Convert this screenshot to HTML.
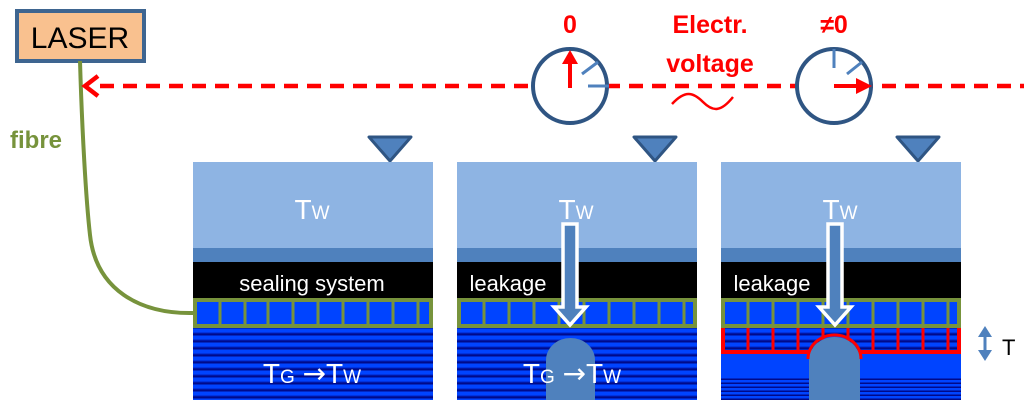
<!DOCTYPE html>
<html><head><style>body{margin:0;background:#fff}svg{display:block}</style></head><body>
<svg width="1024" height="409" viewBox="0 0 1024 409" xmlns="http://www.w3.org/2000/svg" font-family="Liberation Sans, sans-serif">
<defs>
<pattern id="st" width="10" height="7" patternUnits="userSpaceOnUse">
<rect width="10" height="7" fill="#0044ff"/><rect y="3.5" width="10" height="1" fill="#0022c0"/><rect y="4.5" width="10" height="2" fill="#000a8a"/></pattern>
<pattern id="st2" width="10" height="4" patternUnits="userSpaceOnUse">
<rect width="10" height="4" fill="#0044ff"/><rect y="2.5" width="10" height="1.5" fill="#000a8a"/></pattern>
</defs>
<!-- LASER -->
<rect x="17" y="11" width="127" height="50" fill="#f9c18f" stroke="#3e6590" stroke-width="4"/>
<text x="80" y="48" font-size="30" text-anchor="middle">LASER</text>
<path d="M80 61 C82 130 86 200 90 235 C96 290 140 314 193 313" fill="none" stroke="#77933c" stroke-width="4"/>
<text x="10" y="148" font-size="24" font-weight="bold" fill="#77933c">fibre</text>
<!-- dashed line -->
<line x1="100" y1="86" x2="1024" y2="86" stroke="#ff0000" stroke-width="4.5" stroke-dasharray="14,9"/>
<path d="M98 76 L85 86 L98 96" fill="none" stroke="#ff0000" stroke-width="4.5"/>
<!-- gauges -->
<circle cx="570" cy="86" r="37" fill="#fff" stroke="#2f5583" stroke-width="4"/>
<line x1="582" y1="74" x2="598" y2="62" stroke="#4f81bd" stroke-width="3"/>
<line x1="588" y1="86" x2="609" y2="86" stroke="#4f81bd" stroke-width="3"/>
<line x1="570" y1="88" x2="570" y2="62" stroke="#ff0000" stroke-width="4"/>
<polygon points="562,64 578,64 570,50" fill="#ff0000"/>
<circle cx="834" cy="86" r="37" fill="#fff" stroke="#2f5583" stroke-width="4"/>
<line x1="834" y1="49" x2="834" y2="68" stroke="#4f81bd" stroke-width="3"/>
<line x1="847" y1="74" x2="862" y2="62" stroke="#4f81bd" stroke-width="3"/>
<line x1="834" y1="86" x2="858" y2="86" stroke="#ff0000" stroke-width="4"/>
<polygon points="856,78 872,86 856,94" fill="#ff0000"/>
<text x="570" y="33" font-size="25" font-weight="bold" fill="#ff0000" text-anchor="middle">0</text>
<text x="834" y="33" font-size="25" font-weight="bold" fill="#ff0000" text-anchor="middle">≠0</text>
<text x="710" y="33" font-size="25" font-weight="bold" fill="#ff0000" text-anchor="middle">Electr.</text>
<text x="710" y="72" font-size="25" font-weight="bold" fill="#ff0000" text-anchor="middle">voltage</text>
<path d="M672 104 C685 90 693 92 703 102 C713 112 721 112 733 97" fill="none" stroke="#ff0000" stroke-width="2.5"/>
<!-- triangles -->
<polygon points="369,137 411,137 390,161" fill="#4f81bd" stroke="#2f5583" stroke-width="3" stroke-linejoin="round"/>
<polygon points="634,137 676,137 655,161" fill="#4f81bd" stroke="#2f5583" stroke-width="3" stroke-linejoin="round"/>
<polygon points="897,137 939,137 918,161" fill="#4f81bd" stroke="#2f5583" stroke-width="3" stroke-linejoin="round"/>

<!-- panel 1 -->
<g>
<rect x="193" y="162" width="240" height="86" fill="#8eb4e3"/>
<rect x="193" y="248" width="240" height="14" fill="#4f81bd"/>
<rect x="193" y="262" width="240" height="36" fill="#000"/>
<rect x="193" y="327" width="240" height="73" fill="url(#st)"/>
<rect x="195" y="300" width="236" height="26" fill="#0044ff" stroke="#77933c" stroke-width="4"/>
<path d="M220 300v26M245 300v26M268 300v26M293 300v26M318 300v26M343 300v26M368 300v26M393 300v26M418 300v26" stroke="#77933c" stroke-width="3"/>
<text x="312" y="219" font-size="28" fill="#fff" text-anchor="middle">T<tspan font-size="19">W</tspan></text>
<text x="312" y="291" font-size="22" fill="#fff" text-anchor="middle">sealing system</text>
<text x="312" y="383" font-size="28" fill="#fff" text-anchor="middle">T<tspan font-size="19">G</tspan> <tspan font-family="DejaVu Sans">→</tspan>T<tspan font-size="19">W</tspan></text>
</g>
<!-- panel 2 -->
<g>
<rect x="457" y="162" width="240" height="86" fill="#8eb4e3"/>
<rect x="457" y="248" width="240" height="14" fill="#4f81bd"/>
<rect x="457" y="262" width="240" height="36" fill="#000"/>
<rect x="457" y="327" width="240" height="73" fill="url(#st)"/>
<rect x="459" y="300" width="236" height="26" fill="#0044ff" stroke="#77933c" stroke-width="4"/>
<path d="M484 300v26M509 300v26M534 300v26M559 300v26M584 300v26M609 300v26M634 300v26M659 300v26M684 300v26" stroke="#77933c" stroke-width="3"/>
<path d="M546 400 V360 A24.5 22 0 0 1 595 360 V400 Z" fill="#4f81bd"/>
<text x="576" y="219" font-size="28" fill="#fff" text-anchor="middle">T<tspan font-size="19">W</tspan></text>
<text x="508" y="291" font-size="22" fill="#fff" text-anchor="middle">leakage</text>
<text x="572" y="383" font-size="28" fill="#fff" text-anchor="middle">T<tspan font-size="19">G</tspan> <tspan font-family="DejaVu Sans">→</tspan>T<tspan font-size="19">W</tspan></text>
<path d="M563 224 H577 V307 H586 L570 325 L554 307 H563 Z" fill="#4f81bd" stroke="#fff" stroke-width="3.5"/>
</g>
<!-- panel 3 -->
<g>
<rect x="721" y="162" width="240" height="86" fill="#8eb4e3"/>
<rect x="721" y="248" width="240" height="14" fill="#4f81bd"/>
<rect x="721" y="262" width="240" height="36" fill="#000"/>
<rect x="721" y="352" width="240" height="48" fill="#0044ff"/>
<rect x="721" y="378" width="240" height="22" fill="url(#st2)"/>
<rect x="723" y="326" width="236" height="26" fill="url(#st)" stroke="#ff0000" stroke-width="4"/>
<path d="M748 326v26M773 326v26M798 326v26M823 326v26M848 326v26M873 326v26M898 326v26M923 326v26M948 326v26" stroke="#ff0000" stroke-width="3"/>
<rect x="723" y="300" width="236" height="26" fill="#0044ff" stroke="#77933c" stroke-width="4"/>
<path d="M748 300v26M773 300v26M798 300v26M823 300v26M848 300v26M873 300v26M898 300v26M923 300v26M948 300v26" stroke="#77933c" stroke-width="3"/>
<path d="M809 400 V360 A25.5 23 0 0 1 860 360 V400 Z" fill="#4f81bd"/>
<path d="M808 359 A26.5 24 0 0 1 861 359" fill="none" stroke="#ff0000" stroke-width="3"/>
<text x="840" y="219" font-size="28" fill="#fff" text-anchor="middle">T<tspan font-size="19">W</tspan></text>
<text x="772" y="291" font-size="22" fill="#fff" text-anchor="middle">leakage</text>
<path d="M828 224 H842 V307 H851 L835 325 L819 307 H828 Z" fill="#4f81bd" stroke="#fff" stroke-width="3.5"/>
</g>
<!-- T indicator -->
<polygon points="978,337 992,337 985,326" fill="#4f81bd"/>
<polygon points="978,350 992,350 985,361" fill="#4f81bd"/>
<rect x="983.5" y="336" width="3" height="15" fill="#4f81bd"/>
<text x="1002" y="355" font-size="22" fill="#000">T</text>
</svg>
</body></html>
